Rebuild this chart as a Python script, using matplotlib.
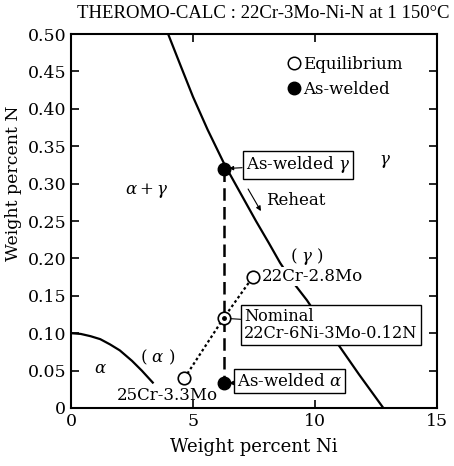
import matplotlib
matplotlib.use("Agg")
import matplotlib.pyplot as plt
from matplotlib.lines import Line2D

plt.rcParams["font.family"] = ["DejaVu Serif"]
plt.rcParams["mathtext.fontset"] = "dejavuserif"
plt.rcParams["font.size"] = 12

# phase boundaries (wt% Ni, wt% N)
gamma_ni = [3.98, 4.5, 5.0, 5.6, 6.3, 7.0, 7.58, 8.1, 8.57, 9.1, 9.67,
            10.2, 10.82, 11.8, 12.8]
gamma_n = [0.50, 0.457, 0.416, 0.372, 0.325, 0.284, 0.25, 0.221, 0.194,
           0.168, 0.144, 0.118, 0.091, 0.045, 0.0]
alpha_ni = [0.0, 0.4, 0.8, 1.2, 1.6, 2.0, 2.5, 2.9, 3.35]
alpha_n = [0.10, 0.099, 0.096, 0.092, 0.085, 0.077, 0.063, 0.050, 0.034]

# equilibrium tie line: 25Cr-3.3Mo (alpha), nominal, 22Cr-2.8Mo (gamma)
eq_ni = [4.65, 6.25, 7.45]
eq_n = [0.04, 0.12, 0.175]
# as-welded gamma / alpha
aw_ni = [6.25, 6.25]
aw_n = [0.32, 0.033]

xticks = [0, 5, 10, 15]
yticks = [0, 0.05, 0.10, 0.15, 0.20, 0.25, 0.30, 0.35, 0.40, 0.45, 0.50]
yticklabels = ["0", "0.05", "0.10", "0.15", "0.20", "0.25", "0.30",
               "0.35", "0.40", "0.45", "0.50"]

fig = plt.figure(figsize=(4.54, 4.66), dpi=100)
ax = fig.add_axes([0.1564, 0.1245, 0.8062, 0.8025])

ax.plot(gamma_ni, gamma_n, color="k", lw=1.6, zorder=1)
ax.plot(alpha_ni, alpha_n, color="k", lw=1.6, zorder=1)
ax.plot(eq_ni, eq_n, color="k", lw=1.6, ls=(0, (1.2, 1.2)), zorder=2)
ax.plot(aw_ni, aw_n, color="k", lw=1.8, ls=(0, (5, 2.5)), zorder=2)

ax.plot(eq_ni, eq_n, ls="none", marker="o", ms=9, mfc="white", mec="k",
        mew=1.2, zorder=4)
ax.plot(eq_ni[1], eq_n[1], ls="none", marker="o", ms=2.5, color="k", zorder=5)
ax.plot(aw_ni, aw_n, ls="none", marker="o", ms=9, color="k", zorder=4)

box = dict(boxstyle="square,pad=0.2", fc="white", ec="k", lw=1.0)
arr = dict(arrowstyle="-|>", color="k", lw=0.8, mutation_scale=6,
           shrinkA=0, shrinkB=4)
ax.annotate(r"As-welded $\gamma$", xy=(aw_ni[0], aw_n[0]),
            xytext=(9.3, 0.325), ha="center", va="center", bbox=box,
            arrowprops=arr, zorder=6)
ax.annotate(r"As-welded $\alpha$", xy=(aw_ni[1], aw_n[1]),
            xytext=(8.95, 0.036), ha="center", va="center", bbox=box,
            arrowprops=arr, zorder=6)
ax.annotate("Nominal\n22Cr-6Ni-3Mo-0.12N", xy=(eq_ni[1], eq_n[1]),
            xytext=(7.1, 0.111), ha="left", va="center", bbox=box,
            linespacing=0.95, fontsize=11.6,
            arrowprops=dict(arrowstyle="-", color="k", lw=0.8,
                            shrinkA=0, shrinkB=5), zorder=6)

ax.text(7.82, 0.176, "22Cr-2.8Mo", ha="left", va="center", zorder=6,
        bbox=dict(boxstyle="square,pad=0.05", fc="white", ec="none"))
ax.text(3.93, 0.017, "25Cr-3.3Mo", ha="center", va="center", zorder=6)
ax.text(9.67, 0.203, r"( $\gamma$ )", ha="center", va="center")
ax.text(3.57, 0.068, r"( $\alpha$ )", ha="center", va="center")
ax.text(1.19, 0.053, r"$\alpha$", ha="center", va="center")
ax.text(3.11, 0.291, r"$\alpha+\gamma$", ha="center", va="center")
ax.text(12.87, 0.33, r"$\gamma$", ha="center", va="center")
ax.text(8.0, 0.278, "Reheat", ha="left", va="center")
ax.annotate("", xy=(7.84, 0.260), xytext=(7.2, 0.296),
            arrowprops=dict(arrowstyle="-|>", color="k", lw=0.8,
                            mutation_scale=7))

handles = [Line2D([], [], ls="none", marker="o", ms=9, mfc="white",
                  mec="k", mew=1.1),
           Line2D([], [], ls="none", marker="o", ms=9, color="k")]
ax.legend(handles, ["Equilibrium", "As-welded"], loc=(0.592, 0.83),
          frameon=False, handlelength=0.7, handletextpad=0.25,
          labelspacing=0.45, borderpad=0)

ax.set_xlim(0, 15)
ax.set_ylim(0, 0.5)
ax.set_xticks(xticks)
ax.set_xticklabels([str(t) for t in xticks])
ax.set_yticks(yticks)
ax.set_yticklabels(yticklabels)
ax.tick_params(direction="in", length=6, width=1.2, top=True, right=True,
               labelsize=12.5)
for s in ax.spines.values():
    s.set_linewidth(1.5)

ax.set_xlabel("Weight percent Ni", fontsize=13, labelpad=6)
ax.set_ylabel("Weight percent N", fontsize=12.5, labelpad=4)
ax.yaxis.set_label_coords(-0.135, 0.60)
fig.text(0.58, 0.972, "THEROMO-CALC : 22Cr-3Mo-Ni-N at 1 150°C",
         ha="center", va="center", fontsize=13.5, family="Liberation Serif")

fig.savefig("out.png", dpi=100)
